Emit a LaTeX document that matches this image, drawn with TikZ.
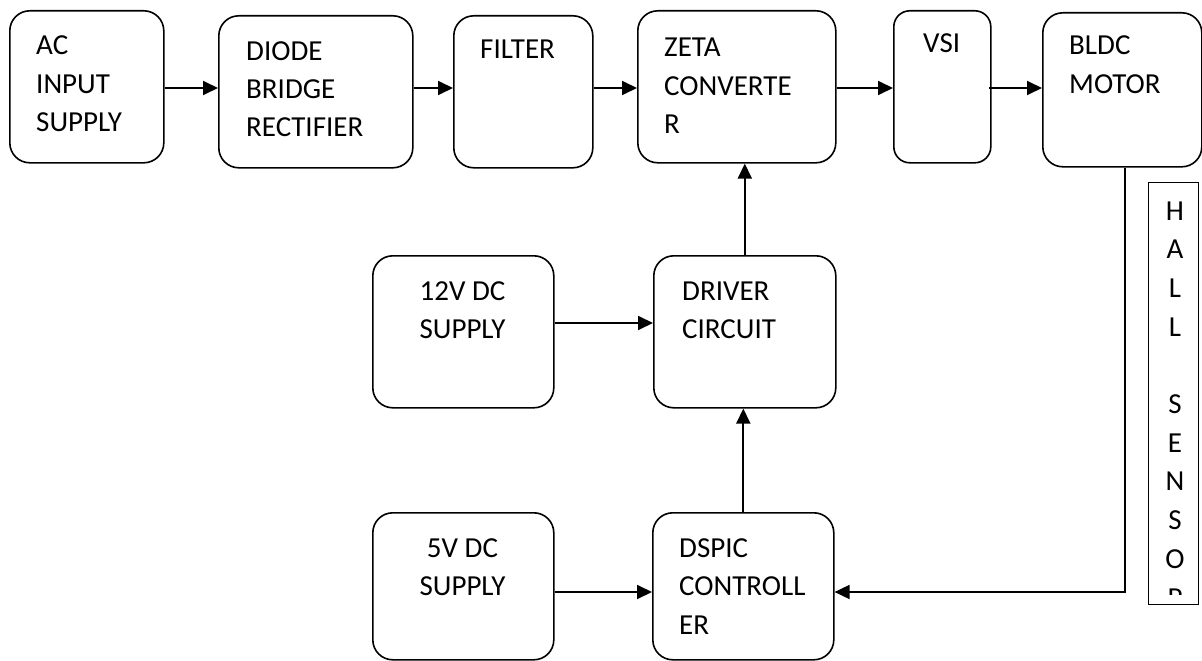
\documentclass[tikz,border=0pt]{standalone}
\usepackage{fontspec}
\setmainfont{Carlito}
\usetikzlibrary{arrows.meta}

% stacked text lines, left-aligned; baseline of the box = first line's baseline
\newcommand\lrows[2][38.5pt]{\vtop{\baselineskip=#1\lineskiplimit=-100pt\halign{##\hfil\cr#2\crcr}}}
% same, centred
\newcommand\crows[2][38.5pt]{\vtop{\baselineskip=#1\lineskiplimit=-100pt\halign{\hfil##\hfil\cr#2\crcr}}}

\tikzset{
  blk/.style={draw, line width=1.6pt, rounded corners=20pt, inner sep=0pt, anchor=north west},
  lbl/.style={inner sep=0pt, font=\fontsize{29}{38.5}\selectfont},
  arr/.style={line width=1.8pt, -{Triangle[length=15pt,width=14pt]}},
  wire/.style={line width=1.8pt}
}

\begin{document}
\begin{tikzpicture}[x=1pt,y=-1pt]
  \fill[white] (0,0) rectangle (1202,661);
  \useasboundingbox (0,0) rectangle (1202,661);

  % top row: power path
  \node[blk, minimum width=154pt, minimum height=152pt] (ac) at (9,10) {};
  \node[lbl, anchor=base west] (act) at (36,55) {\lrows{AC\cr INPUT\cr SUPPLY}};

  \node[blk, minimum width=194pt, minimum height=152pt] (diode) at (218,15) {};
  \node[lbl, anchor=base west] (diodet) at (246,60) {\lrows{DIODE\cr BRIDGE\cr RECTIFIER}};

  \node[blk, minimum width=139pt, minimum height=152pt] (filter) at (453,15) {};
  \node[lbl, anchor=base west] (filtert) at (480,59) {FILTER};

  \node[blk, minimum width=198pt, minimum height=152pt] (zeta) at (637,10) {};
  \node[lbl, anchor=base west] (zetat) at (664,57) {\lrows{ZETA\cr CONVERTE\cr R}};

  \node[blk, rounded corners=16pt, minimum width=97pt, minimum height=152pt] (vsi) at (893,10) {};
  \node[lbl, anchor=base west] (vsit) at (923,53) {VSI};

  \node[blk, minimum width=159pt, minimum height=154pt] (bldc) at (1042,12) {};
  \node[lbl, anchor=base west] (bldct) at (1069,55) {\lrows{BLDC\cr MOTOR}};

  % middle row
  \node[blk, minimum width=181pt, minimum height=152pt] (v12) at (372,255) {};
  \node[lbl, anchor=base] (v12t) at (462.5,300) {\crows{12V DC\cr SUPPLY}};

  \node[blk, minimum width=182pt, minimum height=152pt] (driver) at (653,255) {};
  \node[lbl, anchor=base west] (drivert) at (682,300) {\lrows{DRIVER\cr CIRCUIT}};

  % bottom row
  \node[blk, minimum width=181pt, minimum height=147pt] (v5) at (372,512) {};
  \node[lbl, anchor=base] (v5t) at (462.5,557) {\crows{5V DC\cr SUPPLY}};

  \node[blk, minimum width=181pt, minimum height=147pt] (dspic) at (652,512) {};
  \node[lbl, anchor=base west] (dspict) at (679,557) {\lrows{DSPIC\cr CONTROLL\cr ER}};

  % hall sensor strip, text cut off at the lower edge
  \node[draw, line width=1.4pt, anchor=north west, inner sep=0pt,
        minimum width=50pt, minimum height=422pt] (hall) at (1148,182) {};
  \begin{scope}
    \clip (1149,183) rectangle (1197,594);
    \node[lbl, anchor=base] (hallt) at (1175,220)
      {\crows[38.7pt]{H\cr A\cr L\cr L\cr \cr S\cr E\cr N\cr S\cr O\cr P}};
  \end{scope}

  % rail heights for the horizontal connectors
  \coordinate (r1) at (0,88);
  \coordinate (r2) at (0,323);
  \coordinate (r3) at (0,592);
  \coordinate (tap) at (1125,0);

  \draw[arr] (ac.east |- r1) -- (diode.west |- r1);
  \draw[arr] (diode.east |- r1) -- (filter.west |- r1);
  \draw[arr] (filter.east |- r1) -- (zeta.west |- r1);
  \draw[arr] (zeta.east |- r1) -- (vsi.west |- r1);
  \draw[arr] ([xshift=-3pt]vsi.east |- r1) -- (bldc.west |- r1);

  \draw[arr] (v12.east |- r2) -- (driver.west |- r2);
  \draw[arr] (driver.north) -- (zeta.south -| driver.north);
  \draw[arr] (dspic.north) -- (driver.south -| dspic.north);
  \draw[arr] (v5.east |- r3) -- (dspic.west |- r3);

  % feedback from the motor to the controller
  \draw[arr] (bldc.south -| tap) |- (dspic.east |- r3);
\end{tikzpicture}
\end{document}
